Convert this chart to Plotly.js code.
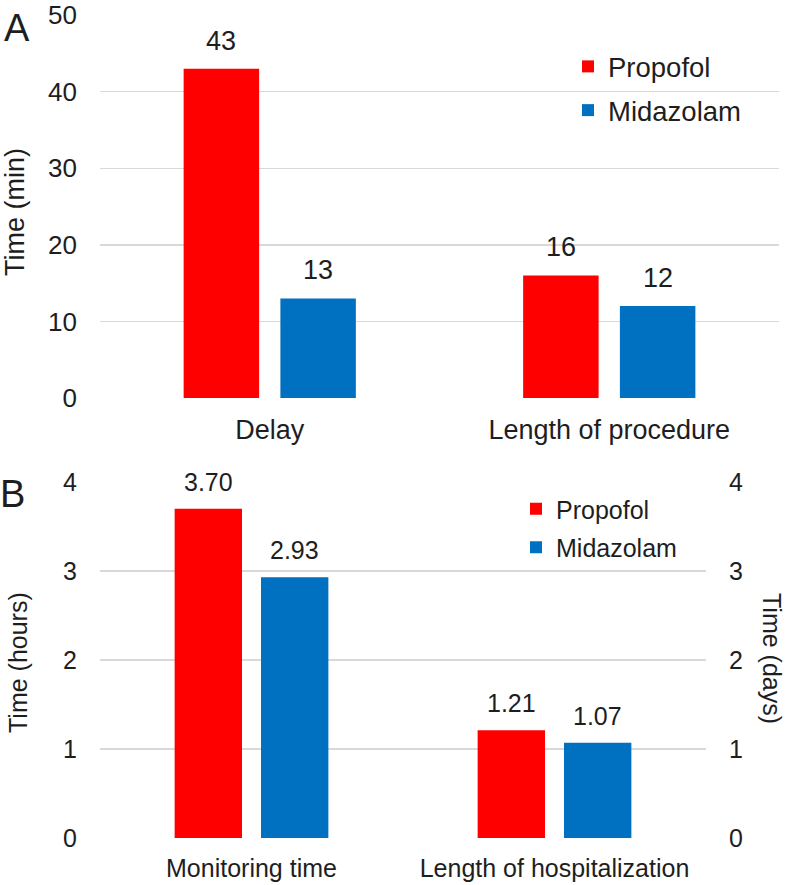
<!DOCTYPE html>
<html>
<head>
<meta charset="utf-8">
<script src="https://cdn.plot.ly/plotly-3.0.1.min.js"></script>
<style>html,body{margin:0;padding:0;background:#fff;}#chart{width:787px;height:885px;}</style>
</head>
<body>
<div id="chart"></div>
<script>
// Panel A data (minutes)
const categoriesA = ['Delay', 'Length of procedure'];
const propofolA = [43, 16];
const midazolamA = [13, 12];

// Panel B data
const categoriesB = ['Monitoring time', 'Length of hospitalization'];
const propofolHours = [3.70];   // Monitoring time (hours)
const midazolamHours = [2.93];
const propofolDays = [1.21];    // Length of hospitalization (days)
const midazolamDays = [1.07];

const RED = '#FF0000';
const BLUE = '#0070C0';
const TXT = '#1e1e1e';
const FONT = 'Liberation Sans, Arial, sans-serif';
const W = 787, H = 885;
const px = v => v / W;
const py = v => 1 - v / H;
const BARGAP = 0.43, GROUPGAP = 0.22;

const xA = [100, 779], xB = [100, 706];
// half-slot offset of each bar from the category centre (derived from layout)
const slotA = (xA[1] - xA[0]) / categoriesA.length * (1 - BARGAP) / 2;
const slotB = (xB[1] - xB[0]) / categoriesB.length * (1 - BARGAP) / 2;

function bar(x, y, name, color, xa, ya, extra) {
  return Object.assign({type: 'bar', x: x, y: y, name: name, xaxis: xa, yaxis: ya,
    marker: {color: color}, hoverinfo: 'skip'}, extra);
}

const traces = [
  bar(categoriesA, propofolA, 'Propofol', RED, 'x', 'y', {legend: 'legend', legendgroup: 'pa'}),
  bar(categoriesA, midazolamA, 'Midazolam', BLUE, 'x', 'y', {legend: 'legend', legendgroup: 'ma'}),
  bar([categoriesB[0]], propofolHours, 'Propofol', RED, 'x2', 'y2', {offsetgroup: 'p', legend: 'legend2', legendgroup: 'pb'}),
  bar([categoriesB[0]], midazolamHours, 'Midazolam', BLUE, 'x2', 'y2', {offsetgroup: 'm', legend: 'legend2', legendgroup: 'mb'}),
  bar([categoriesB[1]], propofolDays, 'Propofol', RED, 'x2', 'y3', {offsetgroup: 'p', showlegend: false, legendgroup: 'pb'}),
  bar([categoriesB[1]], midazolamDays, 'Midazolam', BLUE, 'x2', 'y3', {offsetgroup: 'm', showlegend: false, legendgroup: 'mb'})
];

// value labels
const annotations = [];
function labels(cats, vals, xr, yr, shift, size, fmt) {
  vals.forEach((v, i) => annotations.push({
    x: cats[i], y: v, xref: xr, yref: yr, text: fmt(v), showarrow: false,
    xanchor: 'center', yanchor: 'bottom', xshift: shift, yshift: 11,
    font: {size: size, color: TXT}
  }));
}
labels(categoriesA, propofolA, 'x', 'y', -slotA / 2, 27, String);
labels(categoriesA, midazolamA, 'x', 'y', slotA / 2, 27, String);
labels([categoriesB[0]], propofolHours, 'x2', 'y2', -slotB / 2, 25, v => v.toFixed(2));
labels([categoriesB[0]], midazolamHours, 'x2', 'y2', slotB / 2, 25, v => v.toFixed(2));
labels([categoriesB[1]], propofolDays, 'x2', 'y3', -slotB / 2, 25, v => v.toFixed(2));
labels([categoriesB[1]], midazolamDays, 'x2', 'y3', slotB / 2, 25, v => v.toFixed(2));

annotations.push(
  {text: 'A', x: px(17), y: py(28), xref: 'paper', yref: 'paper', showarrow: false,
   font: {size: 38, color: TXT}, xanchor: 'center', yanchor: 'middle'},
  {text: 'B', x: px(12), y: py(494), xref: 'paper', yref: 'paper', showarrow: false,
   font: {size: 38, color: TXT}, xanchor: 'center', yanchor: 'middle'},
  {text: 'Time (min)', x: px(15), y: py(212), xref: 'paper', yref: 'paper', showarrow: false,
   textangle: -90, font: {size: 27, color: TXT}, xanchor: 'center', yanchor: 'middle'},
  {text: 'Time (hours)', x: px(18), y: py(663), xref: 'paper', yref: 'paper', showarrow: false,
   textangle: -90, font: {size: 25, color: TXT}, xanchor: 'center', yanchor: 'middle'},
  {text: 'Time (days)', x: px(772), y: py(658), xref: 'paper', yref: 'paper', showarrow: false,
   textangle: 90, font: {size: 25, color: TXT}, xanchor: 'center', yanchor: 'middle'}
);

const gridColor = '#D9D9D9';
const layout = {
  width: W, height: H,
  margin: {l: 0, r: 0, t: 0, b: 0},
  paper_bgcolor: '#fff', plot_bgcolor: '#fff',
  font: {family: FONT, color: TXT},
  barmode: 'group', bargap: BARGAP, bargroupgap: GROUPGAP,
  showlegend: true,
  xaxis: {domain: [px(xA[0]), px(xA[1])], anchor: 'y', type: 'category', categoryarray: categoriesA,
          showgrid: false, zeroline: false, showline: false, ticks: '', ticklabelstandoff: 13,
          tickfont: {size: 27, color: TXT}},
  yaxis: {domain: [py(398), py(15)], anchor: 'x', range: [0, 50.02], tickvals: [0, 10, 20, 30, 40, 50],
          showgrid: true, gridcolor: gridColor, gridwidth: 1.5, zeroline: false, showline: false, ticks: '',
          ticklabelstandoff: 22, tickfont: {size: 26, color: TXT}, ticklabeloverflow: 'allow'},
  xaxis2: {domain: [px(xB[0]), px(xB[1])], anchor: 'y2', type: 'category', categoryarray: categoriesB,
           showgrid: false, zeroline: false, showline: false, ticks: '', ticklabelstandoff: 13,
           tickfont: {size: 25, color: TXT}},
  yaxis2: {domain: [py(838), py(482)], anchor: 'x2', range: [0, 4], dtick: 1, showgrid: true,
           gridcolor: gridColor, gridwidth: 1.5, zeroline: false, showline: false, ticks: '',
           ticklabelstandoff: 22, tickfont: {size: 25, color: TXT}},
  yaxis3: {overlaying: 'y2', anchor: 'x2', side: 'right', range: [0, 4], dtick: 1, showgrid: false,
           zeroline: false, showline: false, ticks: '', ticklabelstandoff: 22,
           tickfont: {size: 25, color: TXT}},
  legend: {x: px(568), y: py(42), xanchor: 'left', yanchor: 'top', bgcolor: 'rgba(0,0,0,0)',
           font: {size: 27.5, color: TXT}, traceorder: 'grouped', tracegroupgap: 5},
  legend2: {x: px(516), y: py(486), xanchor: 'left', yanchor: 'top', bgcolor: 'rgba(0,0,0,0)',
            font: {size: 25, color: TXT}, traceorder: 'grouped', tracegroupgap: 3},
  annotations: annotations
};

Plotly.newPlot('chart', traces, layout, {staticPlot: true, displayModeBar: false});
</script>
</body>
</html>
